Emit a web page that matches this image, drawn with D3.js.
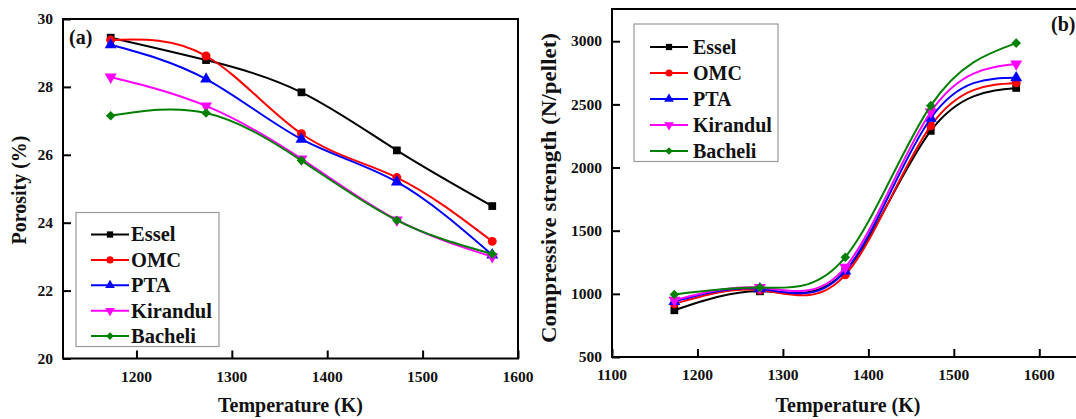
<!DOCTYPE html>
<html><head><meta charset="utf-8">
<script src="https://cdn.jsdelivr.net/npm/d3@7"></script>
<style>
body{margin:0;background:#fff}
svg{display:block}
text{font-family:"Liberation Serif","Times New Roman",serif;font-weight:bold;fill:#111}
</style>
</head><body>
<svg id="chart" width="1076" height="419"></svg>
<script>
// ---------- data ----------
const temperatures = [1173, 1273, 1373, 1473, 1573];
const seriesNames = ["Essel", "OMC", "PTA", "Kirandul", "Bacheli"];
const seriesColors = ["#000000", "#ff0000", "#0000ff", "#ff00ff", "#008000"];

const porosityEssel    = [29.45, 28.79, 27.84, 26.13, 24.49];
const porosityOMC      = [29.38, 28.91, 26.62, 25.33, 23.45];
const porosityPTA      = [29.24, 28.23, 26.46, 25.20, 23.05];
const porosityKirandul = [28.29, 27.44, 25.88, 24.08, 23.00];
const porosityBacheli  = [27.15, 27.23, 25.83, 24.07, 23.08];

const strengthEssel    = [870, 1020, 1180, 2290, 2630];
const strengthOMC      = [920, 1030, 1150, 2330, 2670];
const strengthPTA      = [940, 1040, 1180, 2390, 2710];
const strengthKirandul = [950, 1050, 1210, 2440, 2820];
const strengthBacheli  = [995, 1050, 1290, 2490, 2985];

const porosityTicks = [20, 22, 24, 26, 28, 30];
const leftTempTicks = [1200, 1300, 1400, 1500, 1600];
const strengthTicks = [500, 1000, 1500, 2000, 2500, 3000];
const rightTempTicks = [1100, 1200, 1300, 1400, 1500, 1600];

const porositySeries = [porosityEssel, porosityOMC, porosityPTA, porosityKirandul, porosityBacheli];
const strengthSeries = [strengthEssel, strengthOMC, strengthPTA, strengthKirandul, strengthBacheli];

// ---------- helpers ----------
const svg = d3.select("#chart");
const markerTypes = [
  {sym: d3.symbolSquare, size: 60, rot: 0},
  {sym: d3.symbolCircle, size: 62, rot: 0},
  {sym: d3.symbolTriangle, size: 62, rot: 0},
  {sym: d3.symbolTriangle, size: 62, rot: 180},
  {sym: d3.symbolSquare, size: 46, rot: 45}
];
function marker(g, i, x, y, scale) {
  const m = markerTypes[i];
  g.append("path")
    .attr("d", d3.symbol().type(m.sym).size(m.size * (scale || 1))())
    .attr("transform", `translate(${x},${y}) rotate(${m.rot})`)
    .attr("fill", seriesColors[i]);
}

function panel(opts) {
  const g = svg.append("g");
  const x = d3.scaleLinear().domain(opts.xDomain).range(opts.xRange);
  const y = d3.scaleLinear().domain(opts.yDomain).range(opts.yRange);

  // tick marks (inward) from d3 axes; labels drawn as plain text from the same scales
  const xAxis = g.append("g").attr("transform", `translate(0,${opts.yRange[0]})`)
    .call(d3.axisBottom(x).tickValues(opts.xTicks).tickSize(-8).tickFormat(""));
  const yAxis = g.append("g").attr("transform", `translate(${opts.xRange[0]},0)`)
    .call(d3.axisLeft(y).tickValues(opts.yTicks).tickSize(-8).tickFormat(""));
  [xAxis, yAxis].forEach(a => {
    a.select(".domain").remove();
    a.selectAll(".tick text").remove();
    a.selectAll(".tick line").attr("stroke", "#000").attr("stroke-width", 2);
  });
  const lab = g.append("g").style("font-size", "15.5px");
  lab.selectAll(".xl").data(opts.xTicks).join("text").attr("class", "xl")
    .attr("x", d => x(d)).attr("y", opts.yRange[0] + 23).attr("text-anchor", "middle").text(d => d);
  lab.selectAll(".yl").data(opts.yTicks).join("text").attr("class", "yl")
    .attr("x", opts.xRange[0] - 10).attr("y", d => y(d)).attr("dy", "0.34em")
    .attr("text-anchor", "end").text(d => d);

  // frame
  g.append("rect")
    .attr("x", opts.xRange[0]).attr("y", opts.yRange[1])
    .attr("width", opts.xRange[1] - opts.xRange[0])
    .attr("height", opts.yRange[0] - opts.yRange[1])
    .attr("fill", "none").attr("stroke", "#000").attr("stroke-width", 2);

  const line = d3.line().x((d, j) => x(temperatures[j])).y(d => y(d)).curve(d3.curveNatural);
  opts.series.forEach((vals, i) => {
    g.append("path").attr("d", line(vals)).attr("fill", "none")
      .attr("stroke", seriesColors[i]).attr("stroke-width", 2);
    vals.forEach((v, j) => marker(g, i, x(temperatures[j]), y(v)));
  });

  // legend
  const L = opts.legend;
  g.append("rect").attr("x", L.x).attr("y", L.y).attr("width", L.w).attr("height", L.h)
    .attr("fill", "#fff").attr("stroke", "#9a9a9a").attr("stroke-width", 1.2);
  seriesNames.forEach((name, i) => {
    const cy = L.firstY + i * L.step;
    g.append("line").attr("x1", L.lx1).attr("x2", L.lx2).attr("y1", cy).attr("y2", cy)
      .attr("stroke", seriesColors[i]).attr("stroke-width", 2);
    marker(g, i, (L.lx1 + L.lx2) / 2, cy, 0.65);
    g.append("text").attr("x", L.tx).attr("y", cy).attr("dy", "0.34em")
      .style("font-size", L.fs + "px").text(name);
  });

  // titles
  g.append("text").attr("x", opts.xTitle.x).attr("y", opts.xTitle.y).attr("text-anchor", "middle")
    .style("font-size", "20px").text("Temperature (K)");
  const yt = g.append("text").attr("transform", `translate(${opts.yTitle.x},${opts.yTitle.y}) rotate(-90)`)
    .attr("text-anchor", "middle").style("font-size", opts.yTitle.fs + "px").text(opts.yTitle.text);
  if (opts.yTitle.len) yt.attr("textLength", opts.yTitle.len).attr("lengthAdjust", "spacingAndGlyphs");
  g.append("text").attr("x", opts.tag.x).attr("y", opts.tag.y).style("font-size", "20px").text(opts.tag.text);
}

panel({
  xDomain: [1123, 1600], xRange: [63, 518],
  yDomain: [20, 30], yRange: [358.5, 19],
  xTicks: leftTempTicks, yTicks: porosityTicks,
  series: porositySeries,
  legend: {x: 76, y: 212.5, w: 143, h: 134, firstY: 234.5, step: 25.4, lx1: 91, lx2: 129, tx: 131, fs: 20.5},
  xTitle: {x: 290.5, y: 412}, yTitle: {x: 26, y: 190, text: "Porosity (%)", fs: 20},
  tag: {x: 69, y: 44, text: "(a)"}
});

panel({
  xDomain: [1100, 1650], xRange: [612, 1082],
  yDomain: [500, 3255], yRange: [357, 9],
  xTicks: rightTempTicks, yTicks: strengthTicks,
  series: strengthSeries,
  legend: {x: 634, y: 24, w: 144, h: 137.5, firstY: 47, step: 26, lx1: 650, lx2: 688, tx: 693, fs: 20},
  xTitle: {x: 848, y: 412}, yTitle: {x: 556, y: 188, text: "Compressive strength (N/pellet)", fs: 20, len: 310},
  tag: {x: 1051, y: 31, text: "(b)"}
});
</script>
</body></html>
